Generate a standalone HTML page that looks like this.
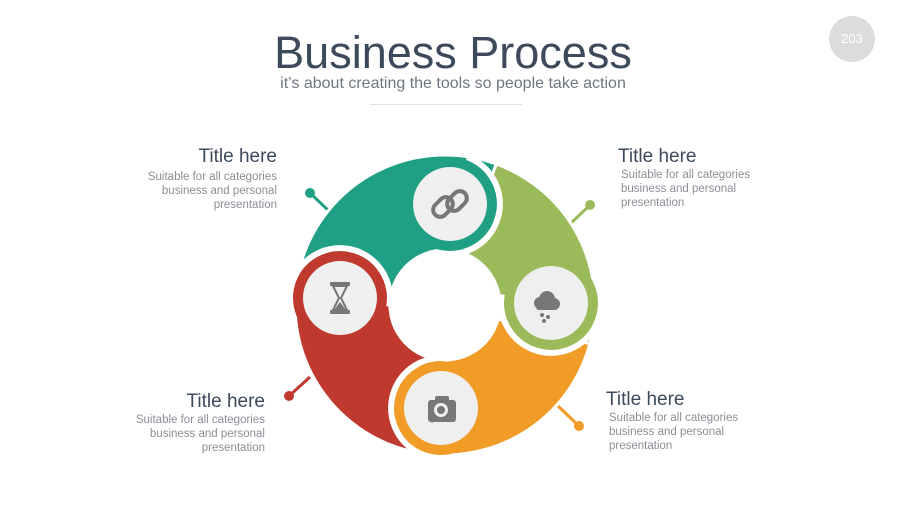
<!DOCTYPE html>
<html><head><meta charset="utf-8"><style>
body{margin:0;width:900px;height:506px;background:#fff;font-family:"Liberation Sans",sans-serif;position:relative;overflow:hidden}
.t{position:absolute;color:#3d4a5c;font-size:19px;line-height:22px}
.b{position:absolute;color:#8a8f96;font-size:11.5px;line-height:14px}
.r{text-align:right}
</style></head><body>
<div style="position:absolute;left:0;width:906px;top:26px;text-align:center;font-size:45px;color:#3d4a5c;line-height:54px">Business Process</div>
<div style="position:absolute;left:0;width:906px;top:74px;text-align:center;font-size:16px;color:#6f7780;line-height:20px">it’s about creating the tools so people take action</div>
<div style="position:absolute;left:370px;width:152px;top:104px;height:1px;background:#e2e2e2"></div>
<div style="position:absolute;left:829px;top:16px;width:46px;height:46px;border-radius:50%;background:#dcdcdc;color:#fff;font-size:13px;line-height:46px;text-align:center">203</div>

<div class="t r" style="left:100px;width:177px;top:146px">Title here</div>
<div class="b r" style="left:100px;width:177px;top:170px">Suitable for all categories<br>business and personal<br>presentation</div>
<div class="t" style="left:618px;top:146px">Title here</div>
<div class="b" style="left:621px;top:168px">Suitable for all categories<br>business and personal<br>presentation</div>
<div class="t r" style="left:90px;width:175px;top:391px">Title here</div>
<div class="b r" style="left:90px;width:175px;top:413px">Suitable for all categories<br>business and personal<br>presentation</div>
<div class="t" style="left:606px;top:389px">Title here</div>
<div class="b" style="left:609px;top:411px">Suitable for all categories<br>business and personal<br>presentation</div>

<svg width="900" height="506" style="position:absolute;left:0;top:0">
<g stroke-width="3">
<line x1="310" y1="193" x2="330" y2="212" stroke="#1fa085"/><circle cx="310" cy="193" r="5" fill="#1fa085"/>
<line x1="590" y1="205" x2="570" y2="224" stroke="#9bbb5a"/><circle cx="590" cy="205" r="5" fill="#9bbb5a"/>
<line x1="289" y1="396" x2="310" y2="377" stroke="#c0392f"/><circle cx="289" cy="396" r="5" fill="#c0392f"/>
<line x1="579" y1="426" x2="558" y2="406" stroke="#f09c27"/><circle cx="579" cy="426" r="5" fill="#f09c27"/>
</g>
<g stroke="#fff" stroke-width="3">
<path fill="#1fa085" d="M300.8,263.7 A150,150 0 0 1 496.3,164 L463.8,253.3 A55,55 0 0 0 392.1,289.8 Z"/>
<path fill="#9bbb5a" d="M496.3,164 A150,150 0 0 1 589.9,343.8 L498.1,319.2 A55,55 0 0 0 463.8,253.3 Z"/>
<path fill="#f09c27" d="M589.9,343.8 A150,150 0 0 1 411.3,451.2 L432.6,358.6 A55,55 0 0 0 498.1,319.2 Z"/>
<path fill="#c0392f" d="M411.3,451.2 A150,150 0 0 1 300.8,263.7 L392.1,289.8 A55,55 0 0 0 432.6,358.6 Z"/>
</g>
<circle cx="445" cy="305" r="53" fill="#fff"/>
<circle cx="450" cy="204" r="47" fill="#1fa085"/>
<path d="M467.1,157 A50,50 0 0 1 441.3,253.2" fill="none" stroke="#fff" stroke-width="6"/>
<circle cx="551" cy="303" r="47" fill="#9bbb5a"/>
<path d="M598,320.1 A50,50 0 0 1 501.8,294.3" fill="none" stroke="#fff" stroke-width="6"/>
<circle cx="441" cy="408" r="47" fill="#f09c27"/>
<path d="M423.9,455 A50,50 0 0 1 449.7,358.8" fill="none" stroke="#fff" stroke-width="6"/>
<circle cx="340" cy="298" r="47" fill="#c0392f"/>
<path d="M293,280.9 A50,50 0 0 1 389.2,306.7" fill="none" stroke="#fff" stroke-width="6"/>
<g fill="#efefef">
<circle cx="450" cy="204" r="37"/><circle cx="551" cy="303" r="37"/><circle cx="441" cy="408" r="37"/><circle cx="340" cy="298" r="37"/>
</g>
<g fill="none" stroke="#777" stroke-width="4">
<rect x="436" y="196" width="14" height="22" rx="7" transform="rotate(45 443 207)"/>
<rect x="450" y="190" width="14" height="22" rx="7" transform="rotate(45 457 201)"/>
</g>
<g fill="#777">
<rect x="330" y="282" width="20" height="4" rx="1"/><rect x="330" y="310" width="20" height="4" rx="1"/>
<path d="M333,286 L347,286 L341,298 L347,310 L333,310 L339,298 Z" fill="none" stroke="#777" stroke-width="2"/>
<path d="M334,310 L346,310 L340,302 Z"/>
<circle cx="540" cy="303" r="6"/><circle cx="547" cy="299" r="8"/><circle cx="554" cy="304" r="6"/><rect x="536" y="303" width="22" height="7" rx="3"/>
<circle cx="542" cy="315" r="2"/><circle cx="548" cy="317" r="2"/><circle cx="544" cy="321" r="2"/>
<rect x="428" y="400" width="28" height="22" rx="3"/><rect x="435" y="396" width="14" height="6" rx="2"/>
<circle cx="441" cy="410" r="7" fill="#efefef"/><circle cx="441" cy="410" r="4"/>
<line x1="436" y1="416" x2="431" y2="422" stroke="#777" stroke-width="3"/>
</g>
</svg>
</body></html>
